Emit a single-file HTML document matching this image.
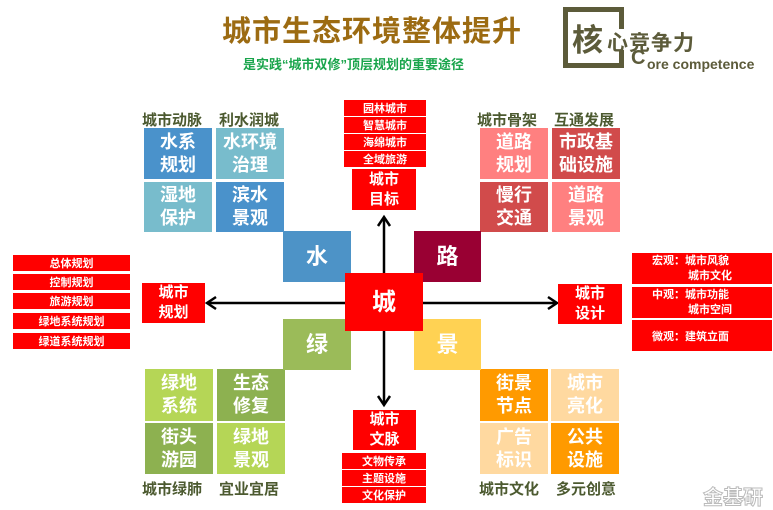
<!DOCTYPE html>
<html><head><meta charset="utf-8"><style>
*{margin:0;padding:0;box-sizing:border-box}
body{width:773px;height:510px;background:#fff;position:relative;overflow:hidden;font-family:"Liberation Sans","Noto Sans CJK SC",sans-serif}
.a{position:absolute}
.c{position:absolute;color:#fff;display:flex;align-items:center;justify-content:center;text-align:center;font-size:18px;line-height:23px;font-weight:bold}
.h{position:absolute;color:#4c5a30;font-size:15px;font-weight:bold;white-space:nowrap}
.r{position:absolute;background:#f00;color:#fff;font-size:11px;font-weight:bold;display:flex;align-items:center;justify-content:center;white-space:nowrap}
</style></head><body>
<div class="a" style="left:222px;top:12px;font-size:29px;line-height:40px;font-weight:bold;color:#9c6b12;white-space:nowrap;letter-spacing:1px">城市生态环境整体提升</div>
<div class="a" style="left:243px;top:56px;font-size:13px;line-height:18px;font-weight:bold;color:#1aa54c;white-space:nowrap">是实践“城市双修”顶层规划的重要途径</div>
<!-- logo -->
<div class="a" style="left:563px;top:7px;width:61px;height:61px;border:5px solid #5c5b3a;border-right:none"></div>
<div class="a" style="left:619px;top:7px;width:5px;height:22px;background:#5c5b3a"></div>
<div class="a" style="left:619px;top:50px;width:5px;height:18px;background:#5c5b3a"></div>
<div class="a" style="left:572px;top:15px;font-size:31px;font-weight:bold;color:#5c5b3a">核</div>
<div class="a" style="left:607px;top:27px;font-size:21px;font-weight:bold;color:#5c5b3a;letter-spacing:1px">心竞争力</div>
<div class="a" style="left:631px;top:47px;font-size:20px;font-weight:bold;color:#5c5b3a">C</div>
<div class="a" style="left:647px;top:56px;font-size:14px;font-weight:bold;color:#5c5b3a">ore competence</div>

<!-- water -->
<div class="h" style="left:142px;top:109px">城市动脉</div>
<div class="h" style="left:219px;top:109px">利水润城</div>
<div class="c" style="left:144px;top:128px;width:68px;height:51px;background:#4a92cb">水系<br>规划</div>
<div class="c" style="left:216px;top:128px;width:68px;height:51px;background:#78bccc">水环境<br>治理</div>
<div class="c" style="left:144px;top:182px;width:68px;height:50px;background:#78bccc">湿地<br>保护</div>
<div class="c" style="left:216px;top:182px;width:68px;height:50px;background:#4a92cb">滨水<br>景观</div>
<!-- road -->
<div class="h" style="left:477px;top:109px">城市骨架</div>
<div class="h" style="left:554px;top:109px">互通发展</div>
<div class="c" style="left:480px;top:128px;width:68px;height:51px;background:#ff8080">道路<br>规划</div>
<div class="c" style="left:552px;top:128px;width:68px;height:51px;background:#d14b4b">市政基<br>础设施</div>
<div class="c" style="left:480px;top:182px;width:68px;height:50px;background:#d14b4b">慢行<br>交通</div>
<div class="c" style="left:552px;top:182px;width:68px;height:50px;background:#ff8080">道路<br>景观</div>
<!-- green -->
<div class="c" style="left:145px;top:369px;width:68px;height:52px;background:#b5d656">绿地<br>系统</div>
<div class="c" style="left:217px;top:369px;width:68px;height:52px;background:#8db150">生态<br>修复</div>
<div class="c" style="left:145px;top:423px;width:68px;height:51px;background:#8db150">街头<br>游园</div>
<div class="c" style="left:217px;top:423px;width:68px;height:51px;background:#b5d656">绿地<br>景观</div>
<div class="h" style="left:142px;top:478px">城市绿肺</div>
<div class="h" style="left:219px;top:478px">宜业宜居</div>
<!-- scenery -->
<div class="c" style="left:480px;top:369px;width:68px;height:52px;background:#ff9a00">街景<br>节点</div>
<div class="c" style="left:551px;top:369px;width:68px;height:52px;background:#ffd9a0">城市<br>亮化</div>
<div class="c" style="left:480px;top:423px;width:68px;height:51px;background:#ffd9a0">广告<br>标识</div>
<div class="c" style="left:551px;top:423px;width:68px;height:51px;background:#ff9a00">公共<br>设施</div>
<div class="h" style="left:479px;top:478px">城市文化</div>
<div class="h" style="left:556px;top:478px">多元创意</div>

<!-- center -->
<div class="c" style="left:283px;top:231px;width:68px;height:51px;background:#4d93c7;font-size:22px">水</div>
<div class="c" style="left:414px;top:231px;width:67px;height:51px;background:#990033;font-size:22px">路</div>
<div class="c" style="left:283px;top:319px;width:68px;height:51px;background:#9bbb59;font-size:22px">绿</div>
<div class="c" style="left:414px;top:319px;width:67px;height:51px;background:#ffd253;font-size:22px">景</div>

<svg class="a" style="left:0;top:0" width="773" height="510">
<g stroke="#000" stroke-width="2.5" fill="none">
<line x1="384" y1="273" x2="384" y2="218"/><polyline points="378,226 384,217 390,226"/>
<line x1="384" y1="331" x2="384" y2="404"/><polyline points="378,396 384,405 390,396"/>
<line x1="345" y1="303" x2="208" y2="303"/><polyline points="216,297 207,303 216,309"/>
<line x1="423" y1="303" x2="556" y2="303"/><polyline points="548,297 557,303 548,309"/>
</g></svg>
<div class="c" style="left:345px;top:273px;width:78px;height:58px;background:#f00;font-size:24px">城</div>

<!-- top -->
<div class="r" style="left:344px;top:100px;width:82px;height:16px">园林城市</div>
<div class="r" style="left:344px;top:117px;width:82px;height:16px">智慧城市</div>
<div class="r" style="left:344px;top:134px;width:82px;height:16px">海绵城市</div>
<div class="r" style="left:344px;top:151px;width:82px;height:16px">全域旅游</div>
<div class="c" style="left:352px;top:169px;width:64px;height:41px;background:#f00;font-size:15px;line-height:20px">城市<br>目标</div>
<!-- bottom -->
<div class="c" style="left:353px;top:410px;width:63px;height:40px;background:#f00;font-size:15px;line-height:20px">城市<br>文脉</div>
<div class="r" style="left:342px;top:453px;width:84px;height:16px">文物传承</div>
<div class="r" style="left:342px;top:470px;width:84px;height:16px">主题设施</div>
<div class="r" style="left:342px;top:487px;width:84px;height:16px">文化保护</div>
<!-- left -->
<div class="c" style="left:142px;top:283px;width:63px;height:40px;background:#f00;font-size:15px;line-height:20px">城市<br>规划</div>
<div class="r" style="left:13px;top:255px;width:117px;height:16px">总体规划</div>
<div class="r" style="left:13px;top:274px;width:117px;height:16px">控制规划</div>
<div class="r" style="left:13px;top:293px;width:117px;height:16px">旅游规划</div>
<div class="r" style="left:13px;top:313px;width:117px;height:16px">绿地系统规划</div>
<div class="r" style="left:13px;top:333px;width:117px;height:16px">绿道系统规划</div>
<!-- right -->
<div class="c" style="left:558px;top:284px;width:64px;height:40px;background:#f00;font-size:15px;line-height:20px">城市<br>设计</div>
<div class="r" style="left:632px;top:253px;width:140px;height:31px;flex-direction:column;line-height:15px;align-items:flex-start;padding-left:20px"><span>宏观：城市风貌</span><span style="padding-left:36px">城市文化</span></div>
<div class="r" style="left:632px;top:287px;width:140px;height:31px;flex-direction:column;line-height:15px;align-items:flex-start;padding-left:20px"><span>中观：城市功能</span><span style="padding-left:36px">城市空间</span></div>
<div class="r" style="left:632px;top:320px;width:140px;height:31px;justify-content:flex-start;padding-left:20px">微观：建筑立面</div>

<div class="a" style="left:703px;top:481px;font-size:20px;font-weight:bold;color:#fff;-webkit-text-stroke:1px #bbb">金基研</div>
</body></html>
